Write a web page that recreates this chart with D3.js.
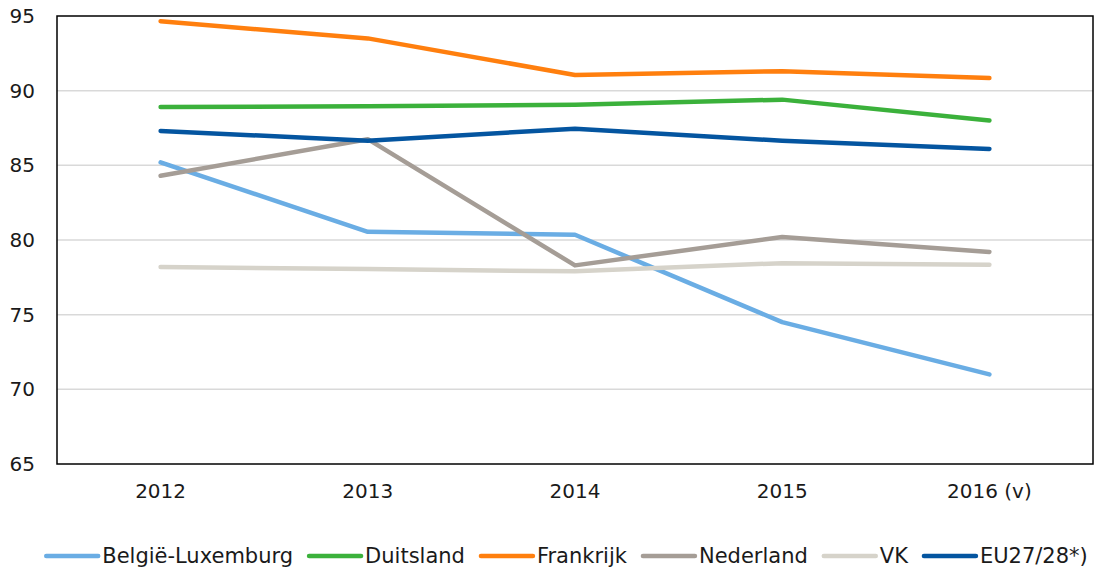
<!DOCTYPE html>
<html><head><meta charset="utf-8">
<script src="https://cdn.jsdelivr.net/npm/d3@7"></script>
<style>body{margin:0;background:#fff}svg{display:block}text{font-family:"DejaVu Sans",Verdana,sans-serif;fill:#1a1a1a}</style>
</head><body>
<svg id="c" width="1095" height="571"></svg>
<script>
const years = ["2012","2013","2014","2015","2016 (v)"];
const yTicks = [65,70,75,80,85,90,95];
const seriesNames = ["België-Luxemburg","Duitsland","Frankrijk","Nederland","VK","EU27/28*)"];
const seriesColors = ["#6aade4","#3bb13b","#ff7f0e","#a59d96","#d6d3ca","#0455a0"];
const beLux = [85.2, 80.55, 80.35, 74.5, 71.0];
const duitsland = [88.9, 88.95, 89.05, 89.4, 88.0];
const frankrijk = [94.65, 93.5, 91.05, 91.3, 90.85];
const nederland = [84.3, 86.75, 78.3, 80.2, 79.2];
const vk = [78.2, 78.05, 77.9, 78.45, 78.35];
const eu = [87.3, 86.65, 87.45, 86.65, 86.1];
const seriesValues = [beLux, duitsland, frankrijk, nederland, vk, eu];
const drawOrder = [0,1,2,3,4,5];

const svg = d3.select("#c");
const L=57, R=1093, T=16, B=464;
const x = d3.scaleBand().domain(years).range([L,R]);
const y = d3.scaleLinear().domain([65,95]).range([B,T]);

svg.append("g").selectAll("line").data(yTicks.filter(t=>t>65&&t<95)).join("line")
  .attr("x1",L).attr("x2",R).attr("y1",d=>y(d)).attr("y2",d=>y(d))
  .attr("stroke","#d9d9d9").attr("stroke-width",1.5);

const line = d3.line().x((d,i)=>x(years[i])+x.bandwidth()/2).y(d=>y(d));
drawOrder.forEach(k=>{
  svg.append("path").attr("d",line(seriesValues[k])).attr("fill","none")
    .attr("stroke",seriesColors[k]).attr("stroke-width",4.5)
    .attr("stroke-linecap","round").attr("stroke-linejoin","round");
});

svg.append("rect").attr("x",L).attr("y",T).attr("width",R-L).attr("height",B-T)
  .attr("fill","none").attr("stroke","#000").attr("stroke-width",1.5);

const ya = svg.append("g").attr("transform",`translate(${L},0)`)
  .call(d3.axisLeft(y).tickValues(yTicks).tickSize(0).tickPadding(22));
ya.select(".domain").remove();
ya.selectAll("text").attr("font-size",20).attr("fill","#1a1a1a").attr("font-family","DejaVu Sans, Verdana, sans-serif");

const xa = svg.append("g").attr("transform",`translate(0,${B})`)
  .call(d3.axisBottom(x).tickSize(0).tickPadding(20));
xa.select(".domain").remove();
xa.selectAll("text").attr("font-size",20).attr("fill","#1a1a1a").attr("font-family","DejaVu Sans, Verdana, sans-serif");

const lg = svg.append("g");
let cx = 0;
seriesNames.forEach((n,i)=>{
  const g = lg.append("g").attr("transform",`translate(${cx},0)`);
  g.append("line").attr("x1",2).attr("x2",54).attr("y1",0).attr("y2",0)
    .attr("stroke",seriesColors[i]).attr("stroke-width",4.5).attr("stroke-linecap","round");
  const t = g.append("text").attr("x",58).attr("dy","0.35em").attr("font-size",21).text(n);
  cx += 58 + t.node().getComputedTextLength() + 14;
});
const totalW = cx - 14;
lg.attr("transform",`translate(${566-totalW/2},556)`);
</script>
</body></html>
